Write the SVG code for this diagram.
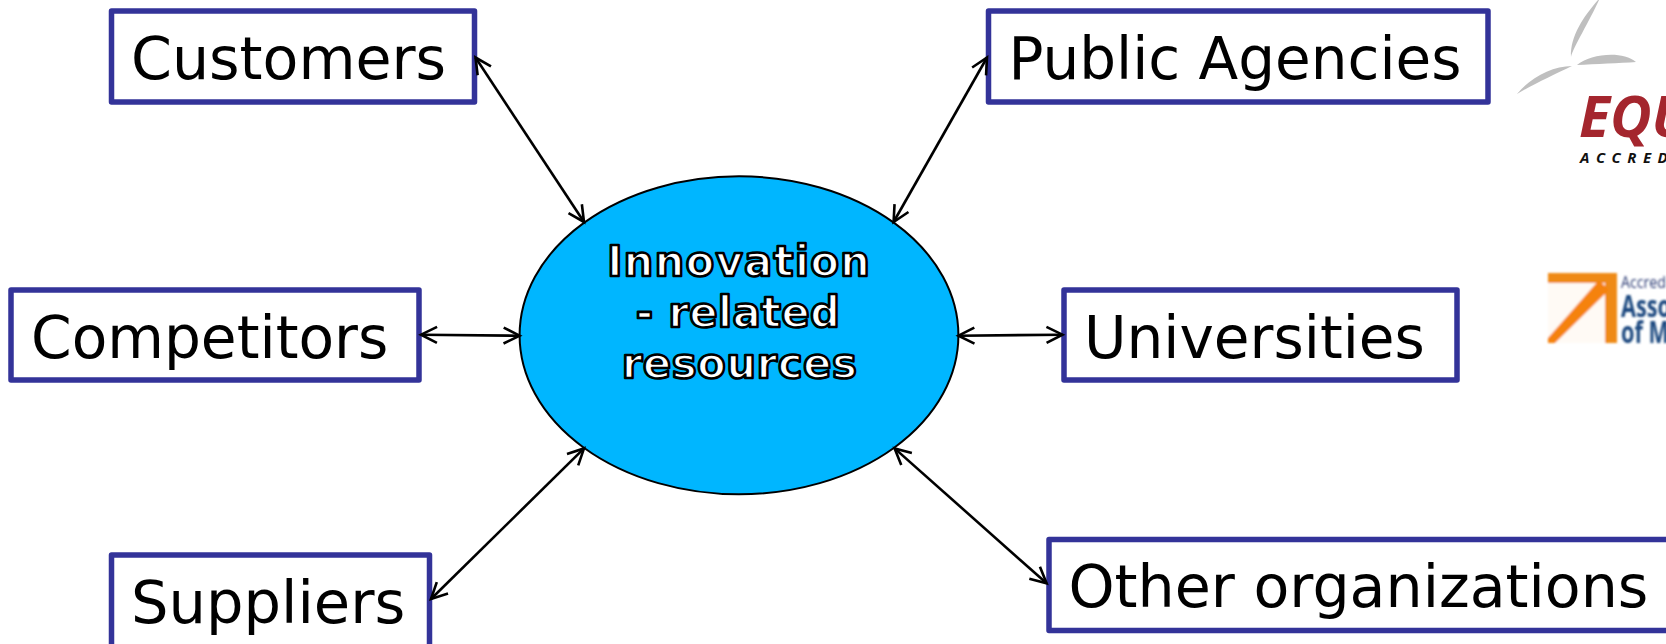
<svg xmlns="http://www.w3.org/2000/svg" width="1666" height="644" viewBox="0 0 1666 644">
<style>
.box{fill:#fff;stroke:#333399;stroke-width:5.5;stroke-linejoin:round}
.lbl{font-family:"DejaVu Sans",Verdana,sans-serif;font-size:58.6px;fill:#000}
.ctr{font-family:"DejaVu Sans",Verdana,sans-serif;font-size:42px;font-weight:bold;fill:#fff;stroke:#000;stroke-width:2.6;stroke-linejoin:round;text-anchor:middle}
.con{fill:none;stroke:#000;stroke-width:2.6;marker-start:url(#a);marker-end:url(#a)}
</style>
<defs>
<marker id="a" markerUnits="userSpaceOnUse" markerWidth="24" markerHeight="24" refX="19" refY="12" orient="auto-start-reverse" viewBox="0 0 24 24">
<path d="M3 4L19 12L3 20" fill="none" stroke="#000" stroke-width="2.6"/>
</marker>
<filter id="soft" x="-5%" y="-5%" width="110%" height="110%"><feGaussianBlur stdDeviation="0.9"/></filter>
</defs>
<rect width="1666" height="644" fill="#fff"/>
<g id="logo-equis">
<path d="M1598 0C1584 16 1570 36 1571 57C1573 48 1590 20 1599 0Z" fill="#bfbfbf"/>
<path d="M1577 65C1590 54 1622 50 1636 62C1620 63 1595 64 1577 65Z" fill="#bfbfbf"/>
<path d="M1517 94C1530 78 1552 66 1572 66C1555 74 1530 86 1517 94Z" fill="#bfbfbf"/>
<text x="1579" y="137" font-family="'Open Sans','Liberation Sans',sans-serif" font-size="57" font-weight="bold" font-style="italic" fill="#a4262e">EQU</text>
<text x="1580" y="163" font-family="'Open Sans','Liberation Sans',sans-serif" font-size="15" font-weight="bold" font-style="italic" letter-spacing="6.5" fill="#111">ACCRED</text>
</g>
<g id="logo-amba" filter="url(#soft)">
<rect x="1548" y="273" width="69" height="70" fill="#fffaf5"/>
<path d="M1548 273H1617V343H1605V283H1548Z" fill="#ef8a17"/>
<path d="M1548 338L1599 280L1609 290L1555 343H1548Z" fill="#f5820f"/>
<text x="1621" y="288" font-family="'Open Sans','Liberation Sans',sans-serif" font-size="17" fill="#2b3a73" textLength="45" lengthAdjust="spacingAndGlyphs">Accred</text>
<text x="1621" y="317" font-family="'Open Sans','Liberation Sans',sans-serif" font-size="30" font-weight="bold" fill="#1f4a80" textLength="50" lengthAdjust="spacingAndGlyphs">Asso</text>
<text x="1621" y="343" font-family="'Open Sans','Liberation Sans',sans-serif" font-size="30" font-weight="bold" fill="#1f4a80" textLength="48" lengthAdjust="spacingAndGlyphs">of M</text>
</g>
<g id="customers"><rect class="box" x="111.5" y="11" width="363" height="91"/><text class="lbl" x="131" y="79">Customers</text></g>
<g id="public-agencies"><rect class="box" x="988.5" y="11" width="499.5" height="91"/><text class="lbl" x="1008.5" y="79" style="font-size:58px">Public Agencies</text></g>
<g id="competitors"><rect class="box" x="11" y="290" width="408" height="90"/><text class="lbl" x="31" y="358" style="font-size:58.2px">Competitors</text></g>
<g id="universities"><rect class="box" x="1064" y="290" width="393" height="90"/><text class="lbl" x="1084" y="358" style="font-size:58.1px">Universities</text></g>
<g id="suppliers"><rect class="box" x="111.5" y="555" width="318" height="100"/><text class="lbl" x="131" y="622.5" style="font-size:59.1px">Suppliers</text></g>
<g id="other-organizations"><rect class="box" x="1049" y="539.5" width="640" height="91"/><text class="lbl" x="1068.5" y="607">Other organizations</text></g>
<g id="innovation-resources"><ellipse cx="739" cy="335.3" rx="219.4" ry="159" fill="#00b6ff" stroke="#000" stroke-width="2"/>
<text class="ctr" x="739" y="276" letter-spacing="1.1">Innovation</text>
<text class="ctr" x="738" y="327" letter-spacing="0.2">- related</text>
<text class="ctr" x="739.5" y="378" letter-spacing="0.4">resources</text></g>
<g id="connectors">
<line class="con" x1="475.5" y1="57.5" x2="584" y2="222"/>
<line class="con" x1="987" y1="57.5" x2="893.6" y2="222"/>
<line class="con" x1="421" y1="334.7" x2="519.6" y2="335.7"/>
<line class="con" x1="958.4" y1="335.7" x2="1062.5" y2="334.7"/>
<line class="con" x1="431" y1="599" x2="584" y2="448.4"/>
<line class="con" x1="894.6" y1="448.4" x2="1046.6" y2="583.3"/>
</g>
</svg>
